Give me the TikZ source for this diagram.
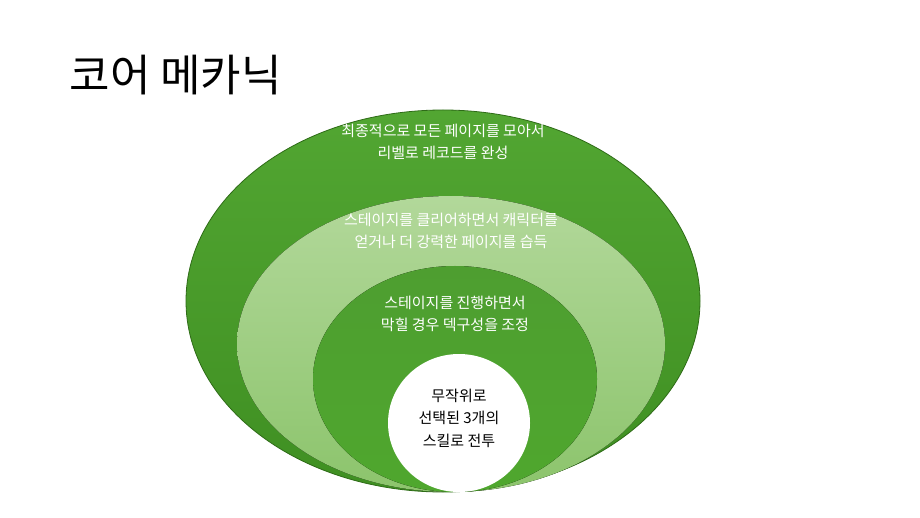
\documentclass[tikz,border=0pt]{standalone}
\usepackage{fontspec}
\setmainfont{Noto Sans CJK KR}
\definecolor{outA}{HTML}{52A632}
\definecolor{outB}{HTML}{3F8F22}
\definecolor{midA}{HTML}{B2D89A}
\definecolor{midB}{HTML}{8CC46C}
\definecolor{inA}{HTML}{4E9E30}
\definecolor{inB}{HTML}{4FA72E}
\definecolor{edge}{HTML}{2E6B17}
\begin{document}
\begin{tikzpicture}[x=1pt,y=-1pt,
  lbl/.style={align=center,font=\fontsize{15}{22.5}\selectfont,text=white},
  ring/.style={draw=edge,line width=0.8pt}]
\useasboundingbox (0,0) rectangle (920,518);
\node[anchor=west,font=\fontsize{44}{48}\selectfont] (title) at (66,75) {코어 메카닉};
\path[ring,top color=outA,bottom color=outB] (443,301) ellipse [x radius=257,y radius=191];
\fill[top color=midA,bottom color=midB] (451,344) ellipse [x radius=214,y radius=148];
\fill[top color=inA,bottom color=inB] (455,379) ellipse [x radius=142,y radius=113];
\fill[white] (459,423) ellipse [x radius=71,y radius=69];
\node[lbl] (t1) at (443,142) {최종적으로 모든 페이지를 모아서\\리벨로 레코드를 완성};
\node[lbl] (t2) at (451,231) {스테이지를 클리어하면서 캐릭터를\\얻거나 더 강력한 페이지를 습득};
\node[lbl] (t3) at (455,314) {스테이지를 진행하면서\\막힐 경우 덱구성을 조정};
\node[lbl,text=black] (t4) at (459,418) {무작위로\\선택된 3개의\\스킬로 전투};
\end{tikzpicture}
\end{document}
